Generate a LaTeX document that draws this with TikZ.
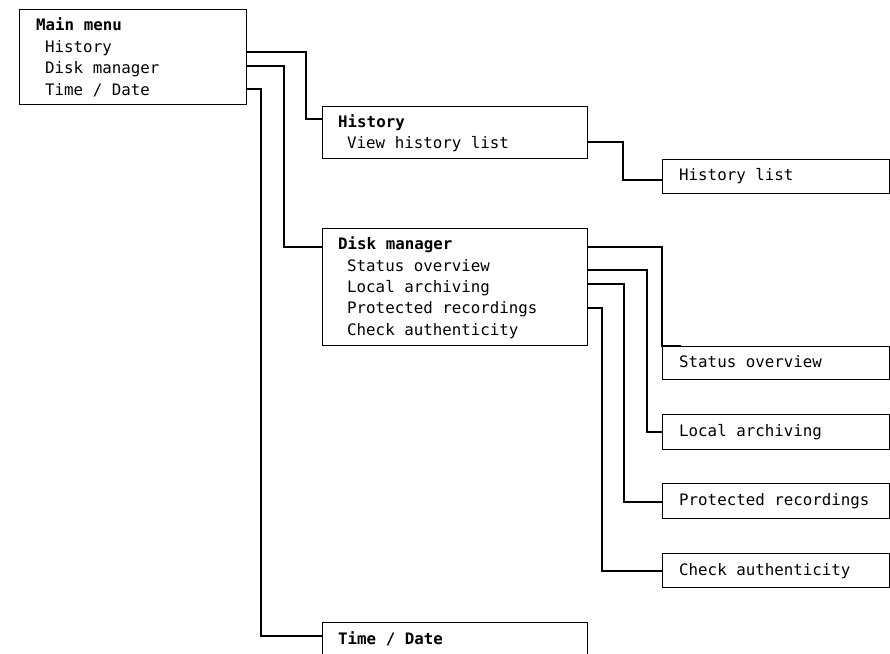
\documentclass[tikz,border=0pt]{standalone}
\usepackage{fontspec}
\setmonofont{DejaVu Sans Mono}
\begin{document}
\begin{tikzpicture}[x=1pt,y=-1pt,
  box/.style={draw, line width=1.2pt, inner sep=0pt, anchor=north west},
  conn/.style={line width=2.2pt},
  txt/.style={anchor=mid west, inner sep=0pt, font=\fontsize{15.8}{18}\selectfont\ttfamily},
  ttl/.style={anchor=mid west, inner sep=0pt, font=\fontsize{15.8}{18}\selectfont\ttfamily\bfseries}]
\clip (0,0) rectangle (890,653);
\fill[white] (0,0) rectangle (890,653);
% boxes
\node[box, minimum width=227pt, minimum height=95pt] (mm) at (19,9) {};
\node[box, minimum width=265pt, minimum height=52pt] (hist) at (322,106) {};
\node[box, minimum width=265pt, minimum height=117pt] (disk) at (322,228) {};
\node[box, minimum width=265pt, minimum height=60pt] (time) at (322,622) {};
\node[box, minimum width=227pt, minimum height=34pt] (hl) at (662,159) {};
\node[box, minimum width=227pt, minimum height=33pt] (so) at (662,346) {};
\node[box, minimum width=227pt, minimum height=35pt] (la) at (662,414) {};
\node[box, minimum width=227pt, minimum height=35pt] (pr) at (662,483) {};
\node[box, minimum width=227pt, minimum height=34pt] (ca) at (662,553) {};
% texts
\node[ttl] (t1) at (36,28) {Main menu};
\node[txt] (t2) at (45,50) {History};
\node[txt] (t3) at (45,71) {Disk manager};
\node[txt] (t4) at (45,93) {Time / Date};
\node[ttl] (t5) at (338,125) {History};
\node[txt] (t6) at (347,146) {View history list};
\node[ttl] (t7) at (338,247) {Disk manager};
\node[txt] (t8) at (347,269) {Status overview};
\node[txt] (t9) at (347,290) {Local archiving};
\node[txt] (t10) at (347,311) {Protected recordings};
\node[txt] (t11) at (347,333) {Check authenticity};
\node[ttl] (t12) at (338,642) {Time / Date};
\node[txt] (t13) at (679,178) {History list};
\node[txt] (t14) at (679,365) {Status overview};
\node[txt] (t15) at (679,434) {Local archiving};
\node[txt] (t16) at (679,503) {Protected recordings};
\node[txt] (t17) at (679,573) {Check authenticity};
% connectors
\draw[conn] (mm.east |- 0,52) -| (306,119) -- (hist.west |- 0,119);
\draw[conn] (mm.east |- 0,66) -| (284,247) -- (disk.west |- 0,247);
\draw[conn] (mm.east |- 0,89) -| (261,636) -- (time.west |- 0,636);
\draw[conn] (hist.east |- 0,142) -| (623,180) -- (hl.west |- 0,180);
\draw[conn] (disk.east |- 0,247) -| (so.north west) -- ++(19,0);
\draw[conn] (disk.east |- 0,270) -| (647,432) -- (la.west |- 0,432);
\draw[conn] (disk.east |- 0,284) -| (624,502) -- (pr.west |- 0,502);
\draw[conn] (disk.east |- 0,308) -| (602,571) -- (ca.west |- 0,571);
\end{tikzpicture}
\end{document}
